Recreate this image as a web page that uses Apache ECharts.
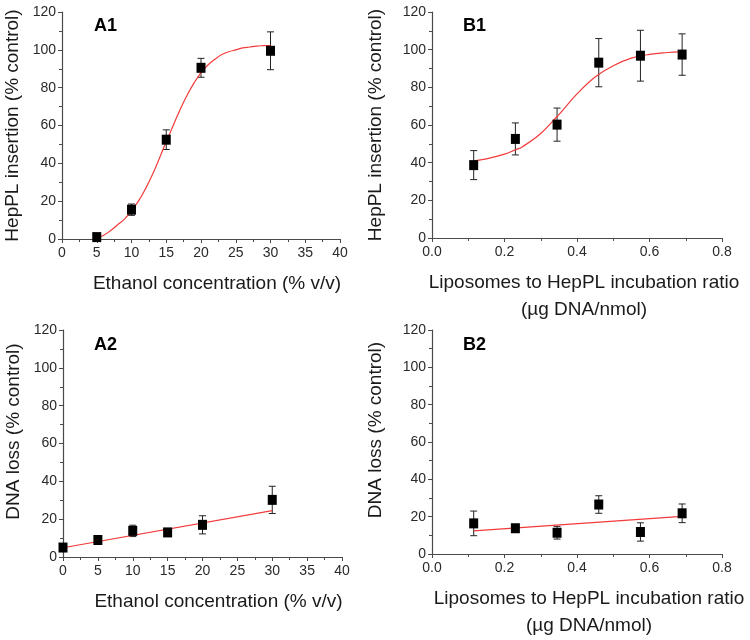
<!DOCTYPE html>
<html>
<head>
<meta charset="utf-8">
<script src="https://cdn.jsdelivr.net/npm/echarts@6/dist/echarts.min.js"></script>
<style>
html,body{margin:0;padding:0;background:#fff;}
#c{width:750px;height:640px;}
</style>
</head>
<body>
<div id="c"></div>
<script>
// ---- data ----
const A_x = [5, 10, 15, 20, 30];
const A1_y = [1, 15.5, 52.5, 90.5, 99.5];
const A1_err = [1, 3, 5.2, 5, 10];
const A1_fitX = [5,6,7,8,9,10,11,12,13,14,15,16,17,18,19,20,21,22,23,24,25,26,27,28,29,30];
const A1_fitY = [0.5,2,4.5,7.5,10.5,15,20,26.5,34,42.5,51.5,60,68.5,76,82.5,88,92,95,97.5,99,100,101,101.5,102,102.2,102.3];

const A2_x = [0, 5, 10, 15, 20, 30];
const A2_y = [5, 9, 13.8, 13, 17, 30.2];
const A2_err = [1.5, 1.5, 3, 1.5, 4.8, 7.2];
const A2_fitX = [0, 30];
const A2_fitY = [4.9, 24.5];

const B_x = [0.115, 0.23, 0.345, 0.46, 0.575, 0.69];
const B1_y = [38.7, 52.6, 60.2, 93.1, 96.8, 97.4];
const B1_err = [7.7, 8.5, 8.8, 12.8, 13.5, 11];
const B1_fitX = [0.115,0.15,0.2,0.23,0.25,0.3,0.345,0.35,0.4,0.45,0.5,0.55,0.6,0.65,0.69];
const B1_fitY = [41,42,44.5,46.8,48.5,55.5,64.5,65.5,76.5,85.5,91.5,95.5,97.5,98.5,99];

const B2_y = [16.4, 13.8, 11.4, 26.5, 11.8, 21.8];
const B2_err = [6.6, 1.5, 3.4, 4.7, 4.9, 5];
const B2_fitX = [0.115, 0.69];
const B2_fitY = [12.4, 20.2];

const yTicks = [0, 20, 40, 60, 80, 100, 120];
const A_xTicks = [0, 5, 10, 15, 20, 25, 30, 35, 40];
const B_xTicks = ['0.0', '0.2', '0.4', '0.6', '0.8'];

const panelLabels = ['A1', 'B1', 'A2', 'B2'];
const yNames = ['HepPL insertion (% control)', 'HepPL insertion (% control)', 'DNA loss (% control)', 'DNA loss (% control)'];
const xNameA = 'Ethanol concentration (% v/v)';
const xNameB = 'Liposomes to HepPL incubation ratio\n(\u00b5g DNA/nmol)';

// ---- chart ----
const FONT = "'Liberation Sans', Arial, sans-serif";
const AX = '#4a4a4a';
const chart = echarts.init(document.getElementById('c'), null, {renderer: 'canvas'});

const grids = [
  {left: 62, top: 12, width: 278, height: 227},
  {left: 432, top: 12, width: 290, height: 226},
  {left: 63, top: 330, width: 279, height: 227},
  {left: 432, top: 330, width: 290, height: 227}
];

function xAxisFor(i) {
  const isA = (i === 0 || i === 2);
  return {
    type: 'value', gridIndex: i,
    min: isA ? A_xTicks[0] : Number(B_xTicks[0]),
    max: isA ? A_xTicks[A_xTicks.length - 1] : Number(B_xTicks[B_xTicks.length - 1]),
    interval: isA ? 5 : 0.2,
    name: isA ? xNameA : xNameB,
    nameLocation: 'middle',
    nameGap: 31,
    nameTextStyle: {fontFamily: FONT, fontSize: 19, color: '#1a1a1a', lineHeight: 27,
      padding: isA ? [0, 0, 0, 32] : (i === 3 ? [0, 0, 0, 24] : [0, 0, 0, 14])},
    axisLine: {show: true, onZero: false, lineStyle: {color: AX, width: 1.2}},
    axisTick: {show: true, length: 4, lineStyle: {color: AX}},
    minorTick: {show: true, splitNumber: 2, length: 3, lineStyle: {color: AX}},
    splitLine: {show: false},
    axisLabel: {fontFamily: FONT, fontSize: 14, color: '#2a2a2a', margin: 7,
      showMinLabel: true, showMaxLabel: true, hideOverlap: false,
      formatter: isA ? (v => String(v)) : (v => v.toFixed(1))}
  };
}
function yAxisFor(i) {
  const isTop = i < 2;
  const isB = (i === 1 || i === 3);
  return {
    type: 'value', gridIndex: i, min: yTicks[0], max: yTicks[yTicks.length - 1], interval: 20,
    name: yNames[i], nameLocation: 'middle',
    nameGap: isB ? 47 : 40,
    nameTextStyle: {fontFamily: FONT, fontSize: 19, color: '#1a1a1a',
      padding: isTop ? [0, 0, 0, 0] : [0, 0, 0, 24]},
    axisLine: {show: true, onZero: false, lineStyle: {color: AX, width: 1.2}},
    axisTick: {show: true, length: 4, lineStyle: {color: AX}},
    minorTick: {show: true, splitNumber: 2, length: 3, lineStyle: {color: AX}},
    splitLine: {show: false},
    axisLabel: {fontFamily: FONT, fontSize: 14, color: '#2a2a2a', margin: 6,
      showMinLabel: true, showMaxLabel: true, hideOverlap: false}
  };
}

function pts(xs, ys) { return xs.map((x, k) => [x, ys[k]]); }
function errData(xs, ys, es) { return xs.map((x, k) => [x, ys[k] - es[k], ys[k] + es[k]]); }

function errSeries(i, data) {
  return {
    type: 'custom', xAxisIndex: i, yAxisIndex: i, z: 3,
    data: data,
    encode: {x: 0, y: [1, 2]},
    renderItem: function (params, api) {
      const x = api.value(0);
      const lo = api.coord([x, api.value(1)]);
      const hi = api.coord([x, api.value(2)]);
      const w = 3.5;
      const st = {stroke: '#222', lineWidth: 1, fill: null};
      return {type: 'group', children: [
        {type: 'line', shape: {x1: lo[0], y1: lo[1], x2: hi[0], y2: hi[1]}, style: st},
        {type: 'line', shape: {x1: lo[0] - w, y1: lo[1], x2: lo[0] + w, y2: lo[1]}, style: st},
        {type: 'line', shape: {x1: hi[0] - w, y1: hi[1], x2: hi[0] + w, y2: hi[1]}, style: st}
      ]};
    }
  };
}
function fitSeries(i, xs, ys) {
  return {type: 'line', xAxisIndex: i, yAxisIndex: i, data: pts(xs, ys), smooth: 0.4,
    showSymbol: false, symbol: 'none', z: 4,
    lineStyle: {color: '#f23a3a', width: 1.2}, silent: true};
}
function ptSeries(i, xs, ys) {
  return {type: 'scatter', xAxisIndex: i, yAxisIndex: i, data: pts(xs, ys),
    symbol: 'rect', symbolSize: [9, 10], z: 5,
    itemStyle: {color: '#000', opacity: 1}};
}

const titlePos = [[89, 12], [458, 12], [89, 331], [458, 331]];

const option = {
  animation: false,
  backgroundColor: '#fff',
  title: panelLabels.map((t, i) => ({text: t, left: titlePos[i][0], top: titlePos[i][1],
    textStyle: {fontFamily: FONT, fontSize: 18, fontWeight: 'bold', color: '#000'}})),
  grid: grids,
  xAxis: [0, 1, 2, 3].map(xAxisFor),
  yAxis: [0, 1, 2, 3].map(yAxisFor),
  series: [
    errSeries(0, errData(A_x, A1_y, A1_err)), fitSeries(0, A1_fitX, A1_fitY), ptSeries(0, A_x, A1_y),
    errSeries(1, errData(B_x, B1_y, B1_err)), fitSeries(1, B1_fitX, B1_fitY), ptSeries(1, B_x, B1_y),
    errSeries(2, errData(A2_x, A2_y, A2_err)), fitSeries(2, A2_fitX, A2_fitY), ptSeries(2, A2_x, A2_y),
    errSeries(3, errData(B_x, B2_y, B2_err)), fitSeries(3, B2_fitX, B2_fitY), ptSeries(3, B_x, B2_y)
  ]
};
chart.setOption(option);
</script>
</body>
</html>
